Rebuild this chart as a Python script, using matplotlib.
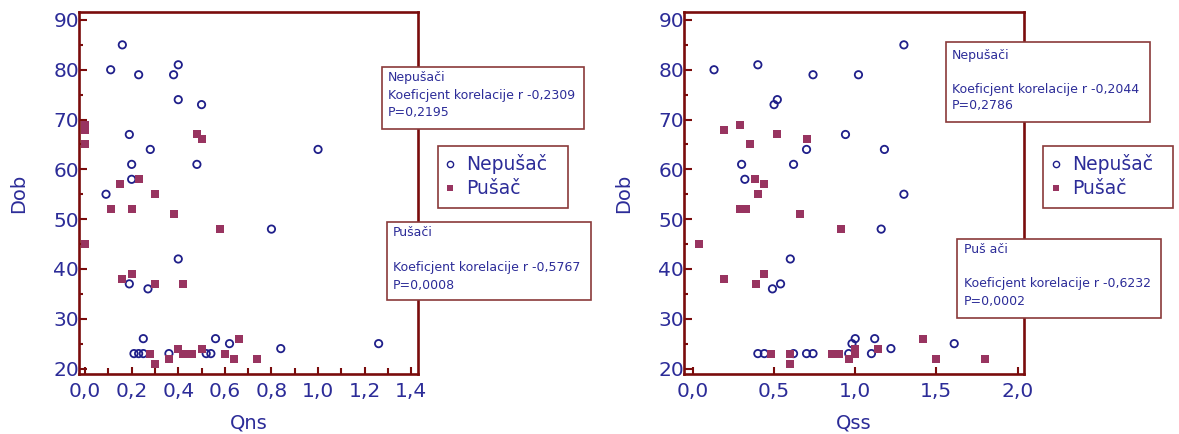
import numpy as np
import matplotlib.pyplot as plt
from matplotlib.patches import Rectangle
from matplotlib.lines import Line2D
from matplotlib.ticker import MultipleLocator, FuncFormatter

plt.rcParams['font.family'] = ['DejaVu Sans']

# Qns - nepusaci / pusaci
qns_nep_x = [0.16, 0.11, 0.23, 0.40, 0.38, 0.40, 0.50, 0.19, 0.28, 1.00, 0.20, 0.48, 0.20, 0.09,
             0.80, 0.40, 0.19, 0.27, 0.25, 0.21, 0.23, 0.25, 0.36, 0.56, 0.62, 0.52, 0.54, 0.84, 1.26]
qns_nep_y = [85, 80, 79, 81, 79, 74, 73, 67, 64, 64, 61, 61, 58, 55,
             48, 42, 37, 36, 26, 23, 23, 23, 23, 26, 25, 23, 23, 24, 25]
qns_pus_x = [0.00, 0.00, 0.00, 0.48, 0.50, 0.15, 0.23, 0.30, 0.11, 0.20, 0.38, 0.58, 0.00, 0.16, 0.20,
             0.30, 0.42, 0.28, 0.30, 0.36, 0.40, 0.42, 0.44, 0.46, 0.50, 0.60, 0.64, 0.66, 0.74]
qns_pus_y = [69, 68, 65, 67, 66, 57, 58, 55, 52, 52, 51, 48, 45, 38, 39,
             37, 37, 23, 21, 22, 24, 23, 23, 23, 24, 23, 22, 26, 22]

# Qss - nepusaci / pusaci
qss_nep_x = [1.30, 0.13, 0.40, 0.74, 1.02, 0.50, 0.52, 0.94, 0.70, 1.18, 0.30, 0.62, 0.32, 1.30,
             1.16, 0.60, 0.49, 0.54, 0.40, 0.44, 0.62, 0.70, 0.74, 0.96, 0.98, 1.00, 1.10, 1.12, 1.22, 1.61]
qss_nep_y = [85, 80, 81, 79, 79, 73, 74, 67, 64, 64, 61, 61, 58, 55,
             48, 42, 36, 37, 23, 23, 23, 23, 23, 23, 25, 26, 23, 26, 24, 25]
qss_pus_x = [0.19, 0.29, 0.52, 0.70, 0.35, 0.38, 0.44, 0.40, 0.29, 0.31, 0.33, 0.66, 0.91, 0.04, 0.19,
             0.44, 0.39, 0.48, 0.60, 0.60, 0.86, 0.90, 0.96, 1.00, 1.00, 1.14, 1.42, 1.50, 1.80]
qss_pus_y = [68, 69, 67, 66, 65, 58, 57, 55, 52, 52, 52, 51, 48, 45, 38,
             39, 37, 23, 23, 21, 23, 23, 22, 24, 23, 24, 26, 22, 22]

legend_labels = ["Nepušač", "Pušač"]
box_nep = ["Nepušači", "Koeficjent korelacije r -0,2309", "P=0,2195",
           "Nepušači", "", "Koeficjent korelacije r -0,2044", "P=0,2786"]
box_pus = ["Pušači", "", "Koeficjent korelacije r -0,5767", "P=0,0008",
           "Puš ači", "", "Koeficjent korelacije r -0,6232", "P=0,0002"]

W, H = 1179, 434
red = '#7a0c0c'
blue = '#2c2c98'
circ = '#1f1f8a'
sq = '#983460'

fig = plt.figure(figsize=(W / 100, H / 100), dpi=100)


def fx(px):
    return px / W


def fy(py):
    return 1 - py / H


def make_ax(x0, x1, xs, ys, xs2, ys2, xlim, xmajor, xminor, xlabel):
    ax = fig.add_axes([fx(x0), fy(374), fx(x1 - x0), 362 / H])
    ax.scatter(xs, ys, s=28, facecolors='none', edgecolors=circ, linewidths=1.3, zorder=3)
    ax.scatter(xs2, ys2, s=40, marker='s', color=sq, linewidths=0, zorder=3)
    ax.set_xlim(*xlim)
    ax.set_ylim(18.9, 91.6)
    ax.xaxis.set_major_locator(MultipleLocator(xmajor))
    if xminor:
        ax.xaxis.set_minor_locator(MultipleLocator(xminor))
    ax.yaxis.set_major_locator(MultipleLocator(10))
    ax.yaxis.set_minor_locator(MultipleLocator(5))
    ax.xaxis.set_major_formatter(FuncFormatter(lambda v, p: ("%.1f" % v).replace('.', ',')))
    for s in ax.spines.values():
        s.set_color(red)
        s.set_linewidth(1.9)
    ax.tick_params(which='both', direction='in', color=red, width=1.5,
                   labelcolor=blue, labelsize=14.5, top=False, right=False)
    ax.tick_params(axis='y', which='major', length=6, pad=0)
    ax.tick_params(axis='y', which='minor', length=3)
    ax.tick_params(axis='x', which='major', length=5, pad=6)
    ax.tick_params(axis='x', which='minor', length=4)
    ax.set_xlabel(xlabel, color=blue, fontsize=14, labelpad=9)
    ax.set_ylabel("Dob", color=blue, fontsize=14, labelpad=18)
    return ax


ax1 = make_ax(79, 418, qns_nep_x, qns_nep_y, qns_pus_x, qns_pus_y,
              (-0.026, 1.429), 0.2, 0.1, "Qns")
ax2 = make_ax(684, 1024, qss_nep_x, qss_nep_y, qss_pus_x, qss_pus_y,
              (-0.055, 2.04), 0.5, None, "Qss")


def box(x0, y0, x1, y1, tx, lines_y, lines):
    fig.patches.append(Rectangle((fx(x0), fy(y1)), fx(x1 - x0), (y1 - y0) / H,
                                 transform=fig.transFigure, facecolor='white',
                                 edgecolor='#8a3a3a', linewidth=1.2, zorder=5))
    for ly, t in zip(lines_y, lines):
        if t:
            fig.text(fx(tx), fy(ly), t, color=blue, fontsize=9, va='center', ha='left', zorder=6)


box(382, 67, 584, 129, 388, [78, 95, 113], box_nep[:3])
box(387, 222, 591, 300, 393, [233, 250, 267, 285], box_pus[:4])
box(946, 42, 1150, 122, 952, [55, 72, 90, 106], box_nep[3:])
box(957, 239, 1161, 318, 964, [250, 267, 284, 302], box_pus[4:])


def legend(x0, y0, x1, y1, mx, tx):
    fig.patches.append(Rectangle((fx(x0), fy(y1)), fx(x1 - x0), (y1 - y0) / H,
                                 transform=fig.transFigure, facecolor='white',
                                 edgecolor='#8a3a3a', linewidth=1.2, zorder=5))
    fig.lines.append(Line2D([fx(mx)], [fy(164)], transform=fig.transFigure, marker='o',
                            markersize=4.5, markerfacecolor='none', markeredgecolor=circ,
                            markeredgewidth=1.0, zorder=6))
    fig.lines.append(Line2D([fx(mx)], [fy(188)], transform=fig.transFigure, marker='s',
                            markersize=5, color=sq, markeredgewidth=0, zorder=6))
    fig.text(fx(tx), fy(164), legend_labels[0], color=blue, fontsize=13.5, va='center', zorder=6)
    fig.text(fx(tx), fy(188), legend_labels[1], color=blue, fontsize=13.5, va='center', zorder=6)


legend(438, 146, 568, 208, 450, 466)
legend(1043, 146, 1173, 208, 1056, 1072)

plt.savefig("out.png", dpi=100)
